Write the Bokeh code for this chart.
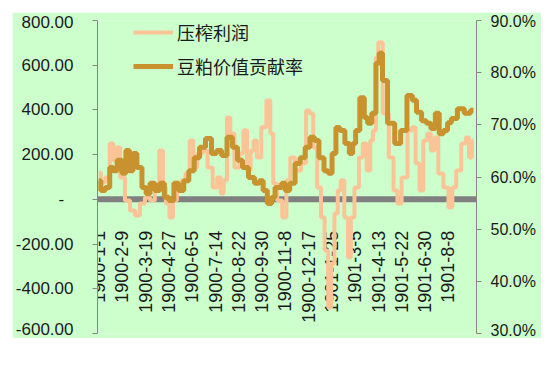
import math
from bokeh.plotting import figure
from bokeh.models import (Range1d, LinearAxis, FixedTicker, Span, Legend,
                          LegendItem, ColumnDataSource)
from bokeh.embed import file_html
from bokeh.resources import INLINE
from bokeh.core.properties import value

# ---------------- data ----------------
tick_labels = ["1900-1-1", "1900-2-9", "1900-3-19", "1900-4-27", "1900-6-5",
               "1900-7-14", "1900-8-22", "1900-9-30", "1900-11-8", "1900-12-17",
               "1901-1-25", "1901-3-5", "1901-4-13", "1901-5-22", "1901-6-30",
               "1901-8-8"]
tick_step = 39  # days between category labels

# 压榨利润 (left axis)
profit_day = [0, 7, 15, 22, 27, 32, 40, 48, 57, 65, 73, 82, 90, 98, 105, 110, 115,
              122, 127, 135, 143, 148, 157, 160, 170, 178, 187, 195, 202, 207, 212,
              218, 223, 232, 240, 245, 252, 257, 262, 268, 277, 285, 290, 295, 303,
              312, 317, 325, 333, 345, 350, 357, 362, 370, 375, 382, 387, 392, 398,
              403, 408, 415, 420, 425, 432, 440, 445, 453, 457, 462, 467, 470, 482,
              490, 498, 503, 512, 523, 527, 535, 540, 548, 553, 560, 565, 573, 582,
              590, 595, 603, 612, 618, 623, 628]
profit = [120, 76, 98, 250, 174, 232, 98, -5, -50, -72, -18, 8, -5, 40, 219, 53, -18,
          -81, -5, 53, 85, 116, 263, 143, 205, 219, 143, 53, 98, 26, 85,
          366, 295, 143, 205, 308, 129, 219, 263, 187, 322, 442, 295, 71, -5,
          -81, 85, 187, 129, 161, 398, 384, 232, 53, -81, -229, -484, -287, -63,
          40, 85, -81, -260, -81, 53, 187, 250, 129, 263, 308, 635, 702, 384,
          187, 40, -18, 98, 308, 322, 161, 40, 263, 295, 219, 277, 116, 53,
          -36, 53, 129, 250, 277, 187, 263]

# 豆粕价值贡献率 (right axis, %)
ratio_day = [0, 7, 15, 22, 27, 35, 43, 48, 55, 60, 68, 77, 82, 90, 98, 107, 113, 122,
             130, 138, 147, 155, 165, 173, 185, 193, 202, 210, 220, 228, 237, 245,
             257, 265, 273, 278, 287, 293, 298, 303, 310, 315, 325, 333, 342, 350,
             358, 365, 373, 382, 387, 395, 400, 408, 417, 423, 428, 433, 442, 448,
             453, 462, 467, 473, 478, 490, 502, 510, 523, 528, 537, 545, 553, 560,
             568, 573, 582, 587, 595, 607, 618, 628]
ratio = [59.3, 57.4, 58.0, 61.8, 61.2, 63.2, 60.7, 65.1, 61.2, 64.5, 61.8, 58.0, 56.8,
         58.8, 57.4, 58.8, 56.1, 55.5, 58.8, 57.4, 59.3, 61.2, 63.7, 65.7, 67.4, 64.5,
         65.1, 64.1, 67.6, 65.7, 63.2, 61.8, 59.9, 58.8, 59.3, 57.4, 54.9, 56.1, 58.0,
         58.0, 58.8, 57.4, 58.8, 62.6, 63.7, 65.7, 67.6, 67.0, 63.7, 61.2, 60.7, 64.5,
         69.5, 68.9, 66.4, 64.5, 66.4, 68.9, 75.2, 71.4, 70.3, 72.2, 81.8, 83.7, 78.5,
         70.3, 66.4, 68.9, 75.6, 74.7, 72.4, 70.8, 70.3, 69.3, 72.2, 68.3, 68.9, 70.4,
         71.2, 73.1, 72.2, 72.8]

left_ticks = [-600, -400, -200, 0, 200, 400, 600, 800]
left_labels = ["-600.00", "-400.00", "-200.00", "-\u2007", "200.00", "400.00",
               "600.00", "800.00"]
right_ticks = [30, 40, 50, 60, 70, 80, 90]
right_labels = ["30.0%", "40.0%", "50.0%", "60.0%", "70.0%", "80.0%", "90.0%"]

# ---------------- styling ----------------
BG = "#CCFFCC"
AXIS = "#868686"
TXT = "#1a1a1a"
LIGHT = "#FBC497"
GOLD = "#C8922E"

p = figure(width=529, height=326, output_backend="svg", toolbar_location=None,
           x_range=Range1d(-2, 633), y_range=Range1d(-600, 800),
           x_axis_location=None,
           min_border_left=83, min_border_right=65, min_border_top=8,
           min_border_bottom=5,
           background_fill_color=BG, border_fill_color=BG,
           outline_line_color=None)
p.margin = (12, 0, 0, 12)
p.grid.visible = False
p.extra_y_ranges = {"pct": Range1d(30, 90)}

yl = p.yaxis[0]
yl.ticker = FixedTicker(ticks=left_ticks)
yl.major_label_overrides = {t: l for t, l in zip(left_ticks, left_labels)}

yr = LinearAxis(y_range_name="pct", ticker=FixedTicker(ticks=right_ticks))
yr.major_label_overrides = {t: l for t, l in zip(right_ticks, right_labels)}
p.add_layout(yr, "right")

for ax, standoff in ((yl, 19), (yr, 9)):
    ax.axis_line_color = AXIS
    ax.major_tick_line_color = AXIS
    ax.minor_tick_line_color = None
    ax.major_tick_in = 0
    ax.major_tick_out = 5
    ax.major_label_standoff = standoff
    ax.major_label_text_font = "Liberation Sans"
    ax.major_label_text_color = TXT
yl.major_label_text_font_size = "17px"
yr.major_label_text_font_size = "16px"

# zero (category) axis band
p.add_layout(Span(location=0, dimension="width", line_color="#808080",
                  line_width=6, level="underlay"))

# category labels (rotated, under the zero line)
lab_src = ColumnDataSource(dict(
    x=[i * tick_step for i in range(len(tick_labels))],
    y=[-140] * len(tick_labels),
    t=tick_labels))
p.text(x="x", y="y", text="t", source=lab_src, angle=math.pi / 2,
       text_align="right", text_baseline="middle",
       text_font=value("Liberation Sans"), text_font_size="18px",
       text_color=TXT)

r1 = p.step(profit_day, profit, mode="center", line_color=LIGHT, line_width=4)
r2 = p.step(ratio_day, ratio, mode="center", y_range_name="pct",
            line_color=GOLD, line_width=5)

legend = Legend(items=[LegendItem(label="压榨利润", renderers=[r1]),
                       LegendItem(label="豆粕价值贡献率", renderers=[r2])],
                location=(36, 254), orientation="vertical",
                glyph_width=40, glyph_height=24, label_height=24,
                spacing=8, padding=0, margin=0, label_standoff=4,
                border_line_color=None, background_fill_alpha=0,
                label_text_font="Noto Sans CJK SC", label_text_font_size="18px",
                label_text_color=TXT)
p.add_layout(legend)

open("out.html", "w").write(file_html(p, INLINE))
